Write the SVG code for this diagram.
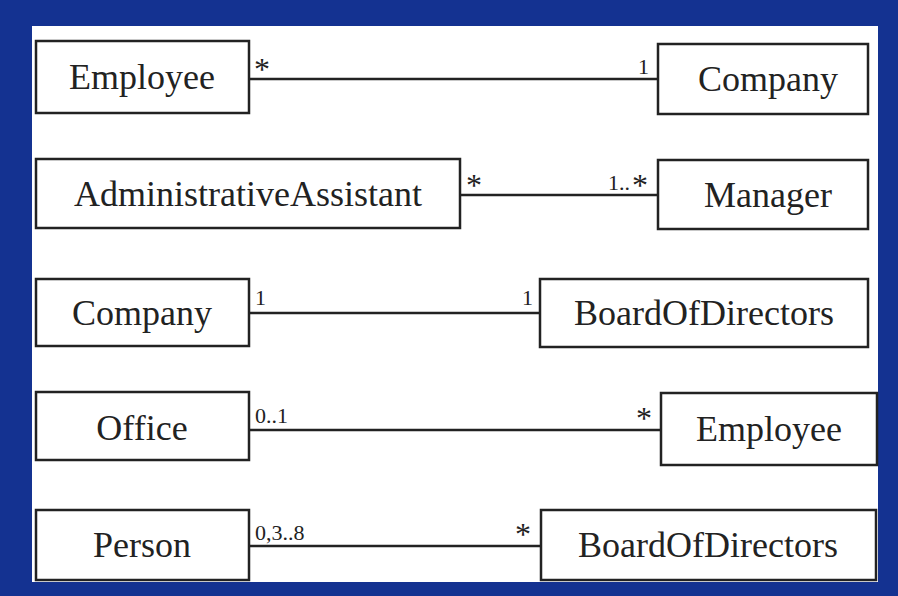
<svg xmlns="http://www.w3.org/2000/svg" width="898" height="596" viewBox="0 0 898 596">
<style>
.b{fill:#fff;stroke:#222;stroke-width:2.5}
.t{font-family:"Liberation Serif",serif;font-size:36px;fill:#222;text-anchor:middle}
.m{font-family:"Liberation Serif",serif;font-size:22px;fill:#222}
.s{font-family:"Liberation Serif",serif;font-size:32px;fill:#222}
line{stroke:#222;stroke-width:2.5}
</style>
<rect width="898" height="596" fill="#143291"/>
<rect x="32" y="26" width="846" height="556" fill="#fff"/>
<g id="n1"><rect class="b" x="36" y="41" width="213" height="72"/><text class="t" x="142" y="89">Employee</text></g>
<g id="n2"><rect class="b" x="658" y="44" width="210" height="70"/><text class="t" x="768" y="91">Company</text></g>
<g id="n3"><rect class="b" x="36" y="159" width="424" height="69"/><text class="t" x="248" y="206">AdministrativeAssistant</text></g>
<g id="n4"><rect class="b" x="658" y="160" width="210" height="69"/><text class="t" x="768" y="207">Manager</text></g>
<g id="n5"><rect class="b" x="36" y="279" width="213" height="67"/><text class="t" x="142" y="325">Company</text></g>
<g id="n6"><rect class="b" x="540" y="279" width="328" height="68"/><text class="t" x="704" y="325">BoardOfDirectors</text></g>
<g id="n7"><rect class="b" x="36" y="392" width="213" height="68"/><text class="t" x="142" y="440">Office</text></g>
<g id="n8"><rect class="b" x="661" y="393" width="216" height="72"/><text class="t" x="769" y="441">Employee</text></g>
<g id="n9"><rect class="b" x="36" y="510" width="213" height="70"/><text class="t" x="142" y="557">Person</text></g>
<g id="n10"><rect class="b" x="541" y="510" width="335" height="70"/><text class="t" x="708" y="557">BoardOfDirectors</text></g>
<g id="connectors">
<line x1="249" y1="79" x2="658" y2="79"/>
<line x1="460" y1="195" x2="658" y2="195"/>
<line x1="249" y1="313" x2="540" y2="313"/>
<line x1="249" y1="430" x2="661" y2="430"/>
<line x1="249" y1="546" x2="541" y2="546"/>
<text class="s" x="254" y="80">*</text>
<text class="m" x="638" y="74">1</text>
<text class="s" x="466" y="196">*</text>
<text class="m" x="608" y="190">1..</text><text class="s" x="632" y="196">*</text>
<text class="m" x="255" y="305">1</text>
<text class="m" x="522" y="305">1</text>
<text class="m" x="255" y="423">0..1</text>
<text class="s" x="636" y="429">*</text>
<text class="m" x="255" y="540">0,3..8</text>
<text class="s" x="515" y="545">*</text>
</g>
</svg>
